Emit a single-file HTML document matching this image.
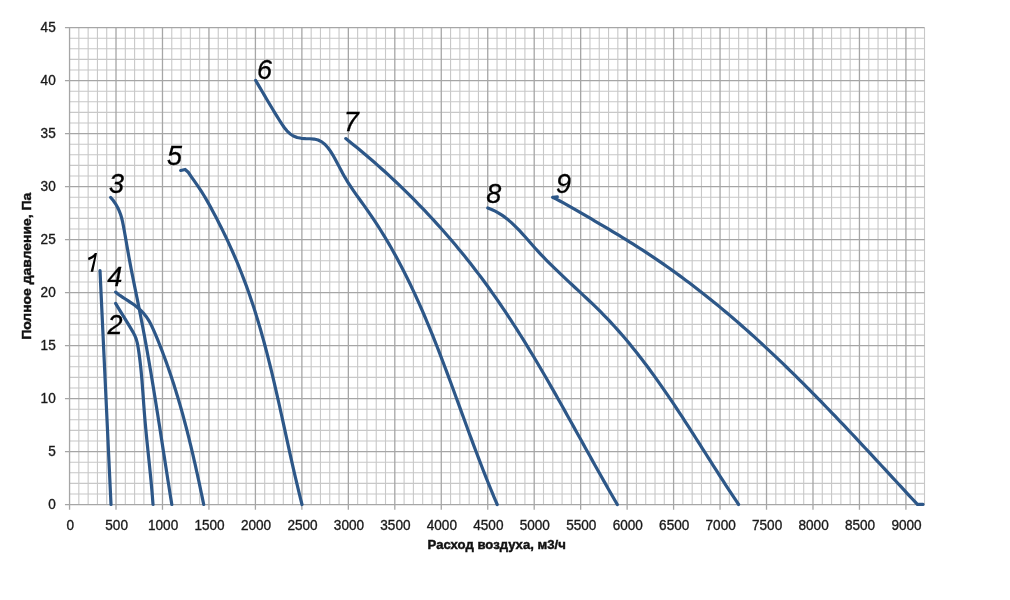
<!DOCTYPE html><html><head><meta charset="utf-8"><title>Chart</title><style>
html,body{margin:0;padding:0;background:#fff;}body{width:1010px;height:600px;overflow:hidden;position:relative;font-family:"Liberation Sans",sans-serif;}
svg{position:absolute;left:0;top:0;will-change:transform;}
.t{font-family:"Liberation Sans",sans-serif;font-size:14px;fill:#1a1a1a;stroke:#1a1a1a;stroke-width:0.35px;}
.b{font-family:"Liberation Sans",sans-serif;font-size:13.5px;font-weight:bold;fill:#111;stroke:#111;stroke-width:0.45px;}
.n{font-family:"Liberation Sans",sans-serif;font-size:27px;font-style:italic;fill:#000;stroke:#000;stroke-width:0.3px;}
</style></head><body>
<svg width="1010" height="600" viewBox="0 0 1010 600">
<rect width="1010" height="600" fill="#fff"/>
<path d="M78.84,27.60V504.60M88.14,27.60V504.60M97.43,27.60V504.60M106.72,27.60V504.60M125.31,27.60V504.60M134.60,27.60V504.60M143.89,27.60V504.60M153.19,27.60V504.60M171.77,27.60V504.60M181.07,27.60V504.60M190.36,27.60V504.60M199.65,27.60V504.60M218.24,27.60V504.60M227.53,27.60V504.60M236.82,27.60V504.60M246.12,27.60V504.60M264.70,27.60V504.60M274.00,27.60V504.60M283.29,27.60V504.60M292.58,27.60V504.60M311.17,27.60V504.60M320.46,27.60V504.60M329.75,27.60V504.60M339.05,27.60V504.60M357.63,27.60V504.60M366.93,27.60V504.60M376.22,27.60V504.60M385.51,27.60V504.60M404.10,27.60V504.60M413.39,27.60V504.60M422.68,27.60V504.60M431.98,27.60V504.60M450.56,27.60V504.60M459.86,27.60V504.60M469.15,27.60V504.60M478.44,27.60V504.60M497.03,27.60V504.60M506.32,27.60V504.60M515.61,27.60V504.60M524.91,27.60V504.60M543.49,27.60V504.60M552.79,27.60V504.60M562.08,27.60V504.60M571.37,27.60V504.60M589.96,27.60V504.60M599.25,27.60V504.60M608.54,27.60V504.60M617.84,27.60V504.60M636.42,27.60V504.60M645.72,27.60V504.60M655.01,27.60V504.60M664.30,27.60V504.60M682.89,27.60V504.60M692.18,27.60V504.60M701.47,27.60V504.60M710.77,27.60V504.60M729.35,27.60V504.60M738.65,27.60V504.60M747.94,27.60V504.60M757.23,27.60V504.60M775.82,27.60V504.60M785.11,27.60V504.60M794.40,27.60V504.60M803.70,27.60V504.60M822.28,27.60V504.60M831.58,27.60V504.60M840.87,27.60V504.60M850.16,27.60V504.60M868.75,27.60V504.60M878.04,27.60V504.60M887.33,27.60V504.60M896.63,27.60V504.60M915.21,27.60V504.60M924.51,27.60V504.60M69.55,494.00H924.51M69.55,483.40H924.51M69.55,472.80H924.51M69.55,462.20H924.51M69.55,441.00H924.51M69.55,430.40H924.51M69.55,419.80H924.51M69.55,409.20H924.51M69.55,388.00H924.51M69.55,377.40H924.51M69.55,366.80H924.51M69.55,356.20H924.51M69.55,335.00H924.51M69.55,324.40H924.51M69.55,313.80H924.51M69.55,303.20H924.51M69.55,282.00H924.51M69.55,271.40H924.51M69.55,260.80H924.51M69.55,250.20H924.51M69.55,229.00H924.51M69.55,218.40H924.51M69.55,207.80H924.51M69.55,197.20H924.51M69.55,176.00H924.51M69.55,165.40H924.51M69.55,154.80H924.51M69.55,144.20H924.51M69.55,123.00H924.51M69.55,112.40H924.51M69.55,101.80H924.51M69.55,91.20H924.51M69.55,70.00H924.51M69.55,59.40H924.51M69.55,48.80H924.51M69.55,38.20H924.51" stroke="#c8c8c8" stroke-width="1.1" fill="none"/>
<path d="M69.55,27.60V509.80M116.01,27.60V509.80M162.48,27.60V509.80M208.94,27.60V509.80M255.41,27.60V509.80M301.88,27.60V509.80M348.34,27.60V509.80M394.81,27.60V509.80M441.27,27.60V509.80M487.74,27.60V509.80M534.20,27.60V509.80M580.66,27.60V509.80M627.13,27.60V509.80M673.59,27.60V509.80M720.06,27.60V509.80M766.52,27.60V509.80M812.99,27.60V509.80M859.45,27.60V509.80M905.92,27.60V509.80M64.95,504.60H924.51M64.95,451.60H924.51M64.95,398.60H924.51M64.95,345.60H924.51M64.95,292.60H924.51M64.95,239.60H924.51M64.95,186.60H924.51M64.95,133.60H924.51M64.95,80.60H924.51M64.95,27.60H924.51" stroke="#a6a6a6" stroke-width="1.3" fill="none"/>
<text class="t" transform="translate(70.15,529.9) scale(0.97,1)" text-anchor="middle">0</text>
<text class="t" transform="translate(116.61,529.9) scale(0.97,1)" text-anchor="middle">500</text>
<text class="t" transform="translate(163.08,529.9) scale(0.97,1)" text-anchor="middle">1000</text>
<text class="t" transform="translate(209.54,529.9) scale(0.97,1)" text-anchor="middle">1500</text>
<text class="t" transform="translate(256.01,529.9) scale(0.97,1)" text-anchor="middle">2000</text>
<text class="t" transform="translate(302.48,529.9) scale(0.97,1)" text-anchor="middle">2500</text>
<text class="t" transform="translate(348.94,529.9) scale(0.97,1)" text-anchor="middle">3000</text>
<text class="t" transform="translate(395.41,529.9) scale(0.97,1)" text-anchor="middle">3500</text>
<text class="t" transform="translate(441.87,529.9) scale(0.97,1)" text-anchor="middle">4000</text>
<text class="t" transform="translate(488.34,529.9) scale(0.97,1)" text-anchor="middle">4500</text>
<text class="t" transform="translate(534.80,529.9) scale(0.97,1)" text-anchor="middle">5000</text>
<text class="t" transform="translate(581.26,529.9) scale(0.97,1)" text-anchor="middle">5500</text>
<text class="t" transform="translate(627.73,529.9) scale(0.97,1)" text-anchor="middle">6000</text>
<text class="t" transform="translate(674.19,529.9) scale(0.97,1)" text-anchor="middle">6500</text>
<text class="t" transform="translate(720.66,529.9) scale(0.97,1)" text-anchor="middle">7000</text>
<text class="t" transform="translate(767.12,529.9) scale(0.97,1)" text-anchor="middle">7500</text>
<text class="t" transform="translate(813.59,529.9) scale(0.97,1)" text-anchor="middle">8000</text>
<text class="t" transform="translate(860.05,529.9) scale(0.97,1)" text-anchor="middle">8500</text>
<text class="t" transform="translate(906.52,529.9) scale(0.97,1)" text-anchor="middle">9000</text>
<text class="t" transform="translate(55.7,509.20) scale(0.97,1)" text-anchor="end">0</text>
<text class="t" transform="translate(55.7,456.20) scale(0.97,1)" text-anchor="end">5</text>
<text class="t" transform="translate(55.7,403.20) scale(0.97,1)" text-anchor="end">10</text>
<text class="t" transform="translate(55.7,350.20) scale(0.97,1)" text-anchor="end">15</text>
<text class="t" transform="translate(55.7,297.20) scale(0.97,1)" text-anchor="end">20</text>
<text class="t" transform="translate(55.7,244.20) scale(0.97,1)" text-anchor="end">25</text>
<text class="t" transform="translate(55.7,191.20) scale(0.97,1)" text-anchor="end">30</text>
<text class="t" transform="translate(55.7,138.20) scale(0.97,1)" text-anchor="end">35</text>
<text class="t" transform="translate(55.7,85.20) scale(0.97,1)" text-anchor="end">40</text>
<text class="t" transform="translate(55.7,32.20) scale(0.97,1)" text-anchor="end">45</text>
<text class="b" x="496.7" y="549.3" text-anchor="middle" textLength="138.2" lengthAdjust="spacingAndGlyphs">Расход воздуха, м3/ч</text>
<text class="b" transform="translate(31.0,266.3) rotate(-90)" text-anchor="middle" textLength="147" lengthAdjust="spacingAndGlyphs">Полное давление, Па</text>
<path d="M100.00,270.60 L111.00,504.50" stroke="#2d5788" stroke-width="3.2" fill="none" stroke-linecap="round" stroke-linejoin="round"/>
<path d="M115.60,303.40 L116.94,305.66 L118.29,307.91 L119.66,310.16 L121.04,312.39 L122.43,314.62 L123.82,316.85 L125.21,319.08 L126.59,321.32 L127.97,323.56 L129.33,325.81 L130.68,328.07 L132.01,330.34 L133.31,332.64 L134.51,334.97 L135.56,337.37 L136.44,339.83 L137.14,342.35 L137.69,344.92 L138.14,347.52 L138.54,350.12 L138.93,352.72 L139.29,355.33 L139.64,357.94 L139.96,360.55 L140.27,363.16 L140.56,365.77 L140.84,368.39 L141.10,371.00 L141.35,373.62 L141.59,376.24 L141.81,378.86 L142.03,381.47 L142.24,384.09 L142.44,386.71 L142.64,389.33 L142.84,391.96 L143.03,394.58 L143.22,397.20 L143.41,399.82 L143.59,402.44 L143.79,405.06 L143.98,407.68 L144.18,410.30 L144.38,412.92 L144.59,415.54 L144.81,418.16 L145.04,420.78 L145.27,423.40 L145.51,426.02 L145.75,428.63 L146.00,431.25 L146.25,433.86 L146.51,436.48 L146.77,439.09 L147.03,441.71 L147.30,444.32 L147.57,446.94 L147.84,449.55 L148.11,452.17 L148.38,454.78 L148.65,457.39 L148.92,460.01 L149.19,462.62 L149.46,465.24 L149.73,467.85 L149.99,470.47 L150.26,473.08 L150.51,475.70 L150.77,478.31 L151.02,480.93 L151.27,483.55 L151.51,486.16 L151.74,488.78 L151.97,491.40 L152.19,494.02 L152.41,496.64 L152.61,499.26 L152.81,501.88 L153.00,504.50" stroke="#2d5788" stroke-width="3.2" fill="none" stroke-linecap="round" stroke-linejoin="round"/>
<path d="M110.70,197.40 L113.27,200.51 L115.54,203.80 L117.52,207.24 L119.21,210.83 L120.61,214.53 L121.74,218.33 L122.65,222.20 L123.43,226.11 L124.16,230.03 L124.87,233.96 L125.56,237.88 L126.24,241.80 L126.92,245.72 L127.61,249.64 L128.30,253.56 L129.00,257.48 L129.73,261.39 L130.46,265.30 L131.22,269.21 L131.98,273.11 L132.76,277.02 L133.54,280.92 L134.34,284.82 L135.13,288.72 L135.93,292.62 L136.72,296.52 L137.52,300.42 L138.31,304.32 L139.10,308.23 L139.87,312.13 L140.64,316.03 L141.40,319.94 L142.15,323.85 L142.90,327.76 L143.63,331.67 L144.36,335.58 L145.08,339.50 L145.79,343.41 L146.49,347.33 L147.19,351.25 L147.88,355.17 L148.56,359.09 L149.24,363.01 L149.91,366.93 L150.58,370.85 L151.24,374.78 L151.90,378.70 L152.55,382.63 L153.20,386.56 L153.84,390.48 L154.48,394.41 L155.11,398.34 L155.74,402.27 L156.37,406.20 L157.00,410.13 L157.62,414.06 L158.24,417.99 L158.86,421.92 L159.47,425.86 L160.09,429.79 L160.70,433.72 L161.31,437.65 L161.92,441.59 L162.53,445.52 L163.14,449.45 L163.76,453.39 L164.37,457.32 L164.98,461.25 L165.59,465.19 L166.20,469.12 L166.81,473.05 L167.43,476.98 L168.05,480.92 L168.67,484.85 L169.29,488.78 L169.91,492.71 L170.54,496.64 L171.17,500.57 L171.80,504.50" stroke="#2d5788" stroke-width="3.2" fill="none" stroke-linecap="round" stroke-linejoin="round"/>
<path d="M115.60,292.10 L117.90,293.94 L120.32,295.69 L122.80,297.38 L125.34,299.03 L127.90,300.68 L130.45,302.35 L132.96,304.05 L135.40,305.83 L137.74,307.69 L139.98,309.65 L142.09,311.72 L144.08,313.89 L145.92,316.18 L147.60,318.58 L149.15,321.10 L150.57,323.72 L151.89,326.40 L153.14,329.13 L154.35,331.89 L155.53,334.66 L156.69,337.43 L157.84,340.22 L158.96,343.00 L160.07,345.80 L161.17,348.60 L162.25,351.40 L163.31,354.20 L164.36,357.02 L165.40,359.83 L166.42,362.65 L167.42,365.47 L168.42,368.30 L169.39,371.14 L170.36,373.97 L171.31,376.81 L172.25,379.65 L173.18,382.50 L174.09,385.35 L174.99,388.21 L175.88,391.07 L176.76,393.93 L177.63,396.79 L178.48,399.66 L179.33,402.53 L180.16,405.41 L180.98,408.28 L181.80,411.17 L182.60,414.05 L183.39,416.94 L184.17,419.83 L184.95,422.72 L185.71,425.61 L186.46,428.51 L187.21,431.41 L187.95,434.31 L188.68,437.22 L189.40,440.12 L190.11,443.03 L190.82,445.94 L191.52,448.86 L192.21,451.77 L192.89,454.69 L193.57,457.61 L194.24,460.53 L194.91,463.45 L195.57,466.37 L196.22,469.30 L196.87,472.23 L197.51,475.15 L198.15,478.08 L198.78,481.02 L199.41,483.95 L200.03,486.88 L200.65,489.82 L201.27,492.75 L201.88,495.69 L202.49,498.62 L203.10,501.56 L203.70,504.50" stroke="#2d5788" stroke-width="3.2" fill="none" stroke-linecap="round" stroke-linejoin="round"/>
<path d="M180.70,170.49 L185.10,169.47 L188.29,172.26 L191.01,176.32 L193.70,180.18 L196.34,183.89 L198.91,187.60 L201.39,191.39 L203.79,195.25 L206.11,199.17 L208.38,203.14 L210.60,207.14 L212.78,211.18 L214.93,215.23 L217.06,219.30 L219.15,223.40 L221.21,227.50 L223.24,231.63 L225.24,235.78 L227.21,239.94 L229.14,244.11 L231.05,248.31 L232.91,252.51 L234.75,256.74 L236.55,260.97 L238.32,265.22 L240.05,269.49 L241.75,273.76 L243.41,278.05 L245.04,282.35 L246.63,286.66 L248.18,290.98 L249.70,295.31 L251.18,299.65 L252.64,304.00 L254.06,308.36 L255.45,312.73 L256.81,317.11 L258.14,321.50 L259.44,325.89 L260.72,330.29 L261.97,334.70 L263.20,339.12 L264.41,343.54 L265.59,347.97 L266.76,352.41 L267.90,356.85 L269.03,361.30 L270.14,365.75 L271.23,370.21 L272.31,374.67 L273.37,379.14 L274.42,383.60 L275.46,388.08 L276.49,392.55 L277.51,397.03 L278.52,401.51 L279.52,406.00 L280.52,410.48 L281.51,414.97 L282.50,419.45 L283.48,423.94 L284.47,428.43 L285.45,432.92 L286.43,437.41 L287.42,441.90 L288.41,446.39 L289.40,450.87 L290.39,455.36 L291.40,459.84 L292.41,464.32 L293.42,468.80 L294.45,473.28 L295.49,477.75 L296.54,482.22 L297.60,486.68 L298.68,491.14 L299.77,495.60 L300.88,500.05 L302.00,504.50" stroke="#2d5788" stroke-width="3.2" fill="none" stroke-linecap="round" stroke-linejoin="round"/>
<path d="M255.70,80.50 L257.97,84.37 L260.18,88.13 L262.33,91.81 L264.46,95.42 L266.56,98.98 L268.65,102.51 L270.75,106.02 L272.86,109.52 L275.01,113.05 L277.20,116.61 L279.44,120.23 L281.77,123.90 L284.23,127.49 L286.92,130.83 L289.92,133.71 L293.31,135.97 L297.14,137.46 L301.28,138.30 L305.59,138.67 L309.91,138.77 L314.11,139.05 L318.11,140.02 L321.79,141.88 L325.06,144.55 L327.93,147.72 L330.44,151.17 L332.71,154.78 L334.81,158.45 L336.81,162.15 L338.74,165.87 L340.67,169.59 L342.63,173.28 L344.68,176.93 L346.83,180.53 L349.07,184.09 L351.39,187.61 L353.76,191.10 L356.19,194.58 L358.64,198.04 L361.12,201.49 L363.60,204.94 L366.06,208.39 L368.51,211.86 L370.92,215.35 L373.29,218.86 L375.62,222.38 L377.92,225.93 L380.19,229.49 L382.42,233.07 L384.61,236.66 L386.78,240.28 L388.91,243.91 L391.01,247.55 L393.08,251.22 L395.13,254.89 L397.14,258.59 L399.12,262.29 L401.08,266.01 L403.01,269.75 L404.92,273.50 L406.80,277.26 L408.65,281.03 L410.48,284.82 L412.29,288.61 L414.07,292.42 L415.84,296.24 L417.58,300.07 L419.30,303.91 L421.01,307.77 L422.69,311.63 L424.36,315.50 L426.00,319.37 L427.64,323.26 L429.25,327.16 L430.85,331.06 L432.44,334.97 L434.01,338.88 L435.57,342.81 L437.12,346.74 L438.65,350.67 L440.18,354.61 L441.69,358.56 L443.20,362.51 L444.69,366.46 L446.18,370.42 L447.66,374.38 L449.14,378.34 L450.61,382.31 L452.07,386.28 L453.53,390.25 L454.99,394.22 L456.44,398.20 L457.89,402.17 L459.34,406.14 L460.79,410.12 L462.24,414.09 L463.69,418.07 L465.14,422.04 L466.59,426.01 L468.04,429.98 L469.50,433.94 L470.97,437.91 L472.43,441.87 L473.91,445.82 L475.39,449.78 L476.88,453.73 L478.37,457.67 L479.88,461.61 L481.39,465.54 L482.91,469.47 L484.45,473.39 L486.00,477.31 L487.55,481.22 L489.13,485.12 L490.71,489.01 L492.31,492.90 L493.92,496.77 L495.55,500.64 L497.20,504.50" stroke="#2d5788" stroke-width="3.2" fill="none" stroke-linecap="round" stroke-linejoin="round"/>
<path d="M345.80,138.60 L349.42,141.48 L353.03,144.38 L356.62,147.31 L360.19,150.26 L363.74,153.23 L367.28,156.23 L370.80,159.25 L374.30,162.29 L377.78,165.35 L381.25,168.43 L384.70,171.54 L388.12,174.67 L391.53,177.82 L394.92,180.99 L398.29,184.18 L401.64,187.39 L404.98,190.63 L408.29,193.88 L411.58,197.16 L414.85,200.45 L418.11,203.77 L421.34,207.11 L424.55,210.46 L427.74,213.84 L430.91,217.23 L434.06,220.65 L437.19,224.08 L440.29,227.54 L443.38,231.01 L446.44,234.50 L449.48,238.01 L452.50,241.54 L455.49,245.09 L458.47,248.66 L461.42,252.24 L464.34,255.84 L467.25,259.46 L470.13,263.10 L472.99,266.76 L475.82,270.43 L478.63,274.12 L481.42,277.83 L484.18,281.55 L486.92,285.29 L489.64,289.05 L492.33,292.82 L494.99,296.61 L497.64,300.41 L500.26,304.23 L502.86,308.07 L505.45,311.91 L508.01,315.77 L510.55,319.65 L513.07,323.53 L515.58,327.43 L518.07,331.34 L520.54,335.26 L522.99,339.20 L525.43,343.14 L527.86,347.09 L530.27,351.06 L532.66,355.03 L535.05,359.01 L537.42,363.00 L539.77,367.00 L542.12,371.00 L544.46,375.01 L546.79,379.03 L549.10,383.05 L551.41,387.08 L553.71,391.12 L556.00,395.16 L558.29,399.21 L560.57,403.25 L562.84,407.31 L565.11,411.36 L567.37,415.42 L569.63,419.48 L571.89,423.54 L574.15,427.60 L576.40,431.67 L578.65,435.73 L580.90,439.80 L583.15,443.86 L585.40,447.93 L587.65,451.99 L589.90,456.05 L592.16,460.11 L594.42,464.17 L596.68,468.22 L598.95,472.27 L601.22,476.32 L603.49,480.36 L605.78,484.40 L608.06,488.43 L610.36,492.46 L612.67,496.48 L614.98,500.49 L617.30,504.50" stroke="#2d5788" stroke-width="3.2" fill="none" stroke-linecap="round" stroke-linejoin="round"/>
<path d="M487.80,207.99 L491.59,209.46 L495.20,211.15 L498.65,213.06 L501.95,215.16 L505.12,217.42 L508.18,219.84 L511.14,222.39 L514.01,225.05 L516.81,227.81 L519.55,230.65 L522.24,233.54 L524.89,236.49 L527.53,239.47 L530.15,242.47 L532.78,245.47 L535.43,248.45 L538.10,251.41 L540.80,254.33 L543.54,257.21 L546.31,260.07 L549.11,262.89 L551.92,265.69 L554.76,268.47 L557.62,271.22 L560.49,273.96 L563.38,276.69 L566.27,279.40 L569.17,282.10 L572.08,284.79 L574.98,287.48 L577.89,290.17 L580.79,292.86 L583.69,295.56 L586.57,298.26 L589.45,300.97 L592.30,303.70 L595.14,306.44 L597.96,309.19 L600.76,311.97 L603.53,314.77 L606.27,317.60 L608.99,320.45 L611.68,323.33 L614.34,326.23 L616.97,329.15 L619.58,332.10 L622.17,335.07 L624.73,338.06 L627.27,341.07 L629.78,344.10 L632.28,347.15 L634.75,350.22 L637.20,353.30 L639.63,356.41 L642.05,359.53 L644.44,362.67 L646.81,365.82 L649.17,368.99 L651.51,372.18 L653.84,375.38 L656.14,378.59 L658.44,381.81 L660.72,385.05 L662.98,388.30 L665.23,391.56 L667.47,394.83 L669.70,398.11 L671.92,401.39 L674.13,404.69 L676.32,408.00 L678.51,411.31 L680.69,414.63 L682.86,417.95 L685.02,421.28 L687.18,424.62 L689.33,427.96 L691.48,431.30 L693.62,434.65 L695.75,437.99 L697.89,441.34 L700.02,444.69 L702.14,448.05 L704.27,451.40 L706.40,454.75 L708.52,458.10 L710.65,461.44 L712.77,464.79 L714.90,468.13 L717.03,471.47 L719.16,474.80 L721.30,478.13 L723.44,481.45 L725.59,484.77 L727.74,488.08 L729.90,491.38 L732.06,494.67 L734.23,497.96 L736.41,501.23 L738.60,504.50" stroke="#2d5788" stroke-width="3.2" fill="none" stroke-linecap="round" stroke-linejoin="round"/>
<path d="M552.70,197.39 L556.31,199.18 L559.89,201.02 L563.44,202.92 L566.97,204.85 L570.48,206.82 L573.98,208.81 L577.47,210.83 L580.95,212.86 L584.43,214.90 L587.90,216.94 L591.38,218.98 L594.86,221.03 L598.33,223.07 L601.81,225.12 L605.28,227.18 L608.74,229.24 L612.21,231.31 L615.67,233.38 L619.12,235.47 L622.57,237.56 L626.00,239.67 L629.44,241.79 L632.86,243.93 L636.27,246.08 L639.67,248.24 L643.06,250.42 L646.44,252.63 L649.80,254.85 L653.16,257.09 L656.50,259.34 L659.83,261.62 L663.14,263.91 L666.45,266.22 L669.74,268.54 L673.02,270.88 L676.29,273.24 L679.55,275.62 L682.80,278.01 L686.03,280.41 L689.25,282.84 L692.47,285.27 L695.67,287.73 L698.85,290.19 L702.03,292.68 L705.20,295.17 L708.35,297.69 L711.49,300.21 L714.62,302.75 L717.74,305.30 L720.85,307.87 L723.95,310.45 L727.03,313.04 L730.11,315.64 L733.17,318.26 L736.23,320.89 L739.27,323.53 L742.30,326.18 L745.32,328.85 L748.34,331.52 L751.34,334.21 L754.33,336.91 L757.31,339.62 L760.29,342.33 L763.25,345.06 L766.20,347.80 L769.15,350.55 L772.09,353.31 L775.02,356.08 L777.94,358.85 L780.85,361.64 L783.76,364.43 L786.65,367.24 L789.54,370.05 L792.43,372.87 L795.30,375.69 L798.17,378.53 L801.03,381.37 L803.88,384.22 L806.73,387.07 L809.57,389.94 L812.41,392.80 L815.24,395.68 L818.06,398.56 L820.88,401.45 L823.69,404.34 L826.50,407.24 L829.30,410.14 L832.10,413.05 L834.90,415.96 L837.68,418.88 L840.47,421.80 L843.25,424.72 L846.02,427.65 L848.80,430.58 L851.57,433.52 L854.33,436.46 L857.09,439.40 L859.85,442.34 L862.61,445.29 L865.36,448.24 L868.11,451.19 L870.86,454.14 L873.61,457.10 L876.35,460.05 L879.09,463.01 L881.83,465.97 L884.57,468.93 L887.31,471.88 L890.05,474.84 L892.79,477.80 L895.52,480.76 L898.26,483.72 L900.99,486.68 L903.72,489.64 L906.46,492.59 L909.19,495.55 L911.93,498.50 L914.66,501.45 L917.40,504.40 L923.00,504.40" stroke="#2d5788" stroke-width="3.2" fill="none" stroke-linecap="round" stroke-linejoin="round"/>
<path d="M553,197.2L557.4,196.8" stroke="#2d5788" stroke-width="3" fill="none" stroke-linecap="round"/>
<path d="M97.0,253.0 L94.9,253.0 C93.3,255.2 90.9,256.8 88.0,257.8 L88.5,260.2 C91,259.4 92.9,258.4 94.3,257.1 L90.6,271.8 L93.2,271.8 Z" fill="#000"/>
<text class="n" x="107.5" y="334.2">2</text>
<text class="n" x="109.0" y="193.2">3</text>
<text class="n" x="107.2" y="286.2">4</text>
<text class="n" x="167.0" y="164.8">5</text>
<text class="n" x="257.0" y="78.9">6</text>
<text class="n" x="343.7" y="130.6">7</text>
<text class="n" x="486.2" y="203.3">8</text>
<text class="n" x="556.0" y="193.4">9</text>
</svg></body></html>
